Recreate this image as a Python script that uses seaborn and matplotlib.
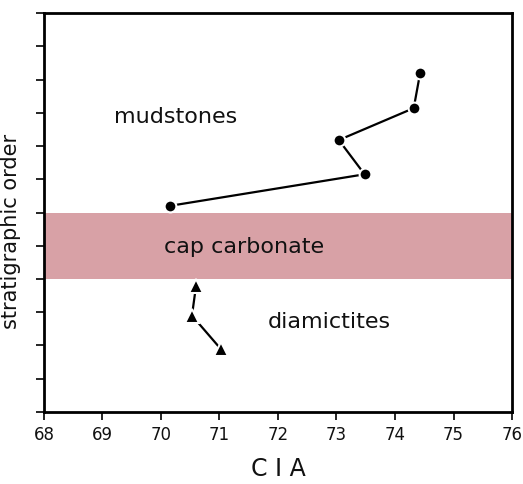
import matplotlib
matplotlib.use("Agg")
import matplotlib.pyplot as plt
import seaborn as sns
import pandas as pd

# Data
mud_cia = [70.15, 73.48, 73.04, 74.32, 74.43]
mud_order = [6.2, 7.15, 8.18, 9.14, 10.2]
dia_cia = [70.6, 70.53, 71.03]
dia_order = [3.8, 2.9, 1.88]
band_range = [4, 6]
x_ticks = [68, 69, 70, 71, 72, 73, 74, 75, 76]
y_ticks = list(range(0, 13))

sns.set_theme(style="white")
plt.rcParams['font.family'] = ['DejaVu Sans']

fig = plt.figure(figsize=(5.23, 4.85), dpi=100)
ax = fig.add_axes([0.084, 0.1485, 0.895, 0.8225])

ax.axhspan(band_range[0], band_range[1], color='#d8a1a6', lw=0, zorder=0)

mud = pd.DataFrame({'CIA': mud_cia, 'order': mud_order})
dia = pd.DataFrame({'CIA': dia_cia, 'order': dia_order})
sns.lineplot(data=mud, x='CIA', y='order', sort=False, color='black', lw=1.6,
             marker='o', markersize=8.5, markeredgecolor='white', markeredgewidth=1.5, ax=ax)
sns.lineplot(data=dia, x='CIA', y='order', sort=False, color='black', lw=1.6,
             marker='^', markersize=9.5, markeredgecolor='white', markeredgewidth=1.5, ax=ax)

tc = '#111111'
ax.text(70.25, 8.9, 'mudstones', fontsize=16, ha='center', va='center', color=tc)
ax.text(71.42, 5.0, 'cap carbonate', fontsize=16, ha='center', va='center', color=tc)
ax.text(72.87, 2.75, 'diamictites', fontsize=16, ha='center', va='center', color=tc)

ax.set_xlim(68, 76)
ax.set_ylim(0, 12)
ax.set_xticks(x_ticks)
ax.set_xticklabels([str(t) for t in x_ticks], fontsize=12, color=tc)
ax.set_yticks(y_ticks)
ax.set_yticklabels([])
ax.tick_params(axis='both', direction='out', length=6, width=1.2, color='black',
               bottom=True, left=True)
for s in ax.spines.values():
    s.set_linewidth(2)
    s.set_color('black')
ax.set_xlabel('C I A', fontsize=17, labelpad=9, color=tc)
ax.set_ylabel('stratigraphic order', fontsize=15, color=tc)
ax.yaxis.set_label_coords(-0.048, 0.455)

fig.savefig('out.png', dpi=100)
